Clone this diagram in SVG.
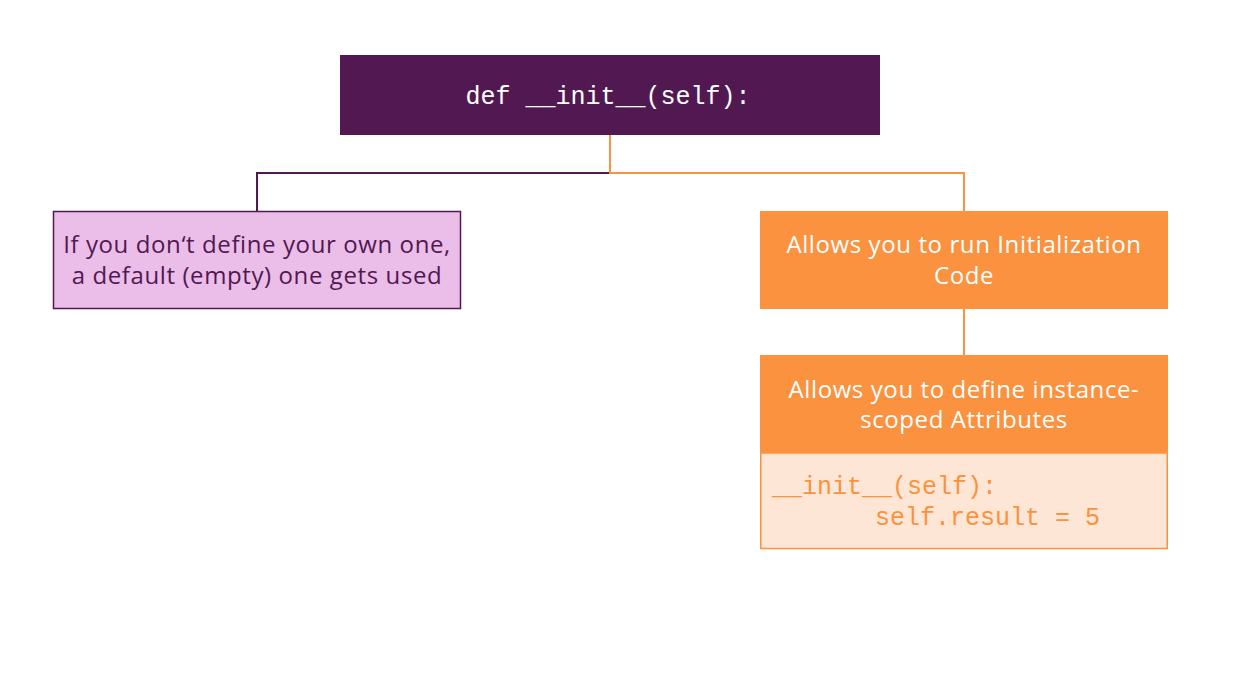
<svg xmlns="http://www.w3.org/2000/svg" width="1244" height="686" viewBox="0 0 1244 686">
<style>
.txt{font-family:"Open Sans","Noto Sans",sans-serif;font-size:24px;letter-spacing:0.6px;text-anchor:middle}
.mono{font-family:"Liberation Mono","DejaVu Sans Mono",monospace;font-size:25px}
.orange{fill:#fa923f}
</style>
<rect width="1244" height="686" fill="#ffffff"/>
<g id="connectors" fill="none" stroke-width="2">
<path d="M610 135 V173 H257 V211" stroke="#521852"/>
<path d="M610 135 V173 H964 V211" stroke="#fa923f"/>
<path d="M964 309 V355" stroke="#fa923f"/>
</g>
<g id="init">
<rect x="340" y="55" width="540" height="80" fill="#521852"/>
<text class="mono" x="608" y="104" fill="#ffffff" text-anchor="middle">def __init__(self):</text>
</g>
<g id="default">
<rect x="53.5" y="211.5" width="407" height="97" fill="#ebbde9" stroke="#521852" stroke-width="1.5"/>
<text class="txt" fill="#521852" x="257" y="253">If you don‘t define your own one,</text>
<text class="txt" fill="#521852" x="257" y="284">a default (empty) one gets used</text>
</g>
<g id="run">
<rect x="760" y="211" width="408" height="98" class="orange"/>
<text class="txt" fill="#ffffff" x="964" y="253">Allows you to run Initialization</text>
<text class="txt" fill="#ffffff" x="964" y="284">Code</text>
</g>
<g id="attributes">
<rect x="760" y="355" width="408" height="98" class="orange"/>
<text class="txt" fill="#ffffff" x="964" y="398">Allows you to define instance-</text>
<text class="txt" fill="#ffffff" x="964" y="428">scoped Attributes</text>
<rect x="760.75" y="453" width="406.5" height="95.5" fill="#fde6d6" stroke="#fa923f" stroke-width="1.5"/>
<text class="mono orange" x="772" y="494">__init__(self):</text>
<text class="mono orange" x="875" y="525">self.result = 5</text>
</g>
</svg>
